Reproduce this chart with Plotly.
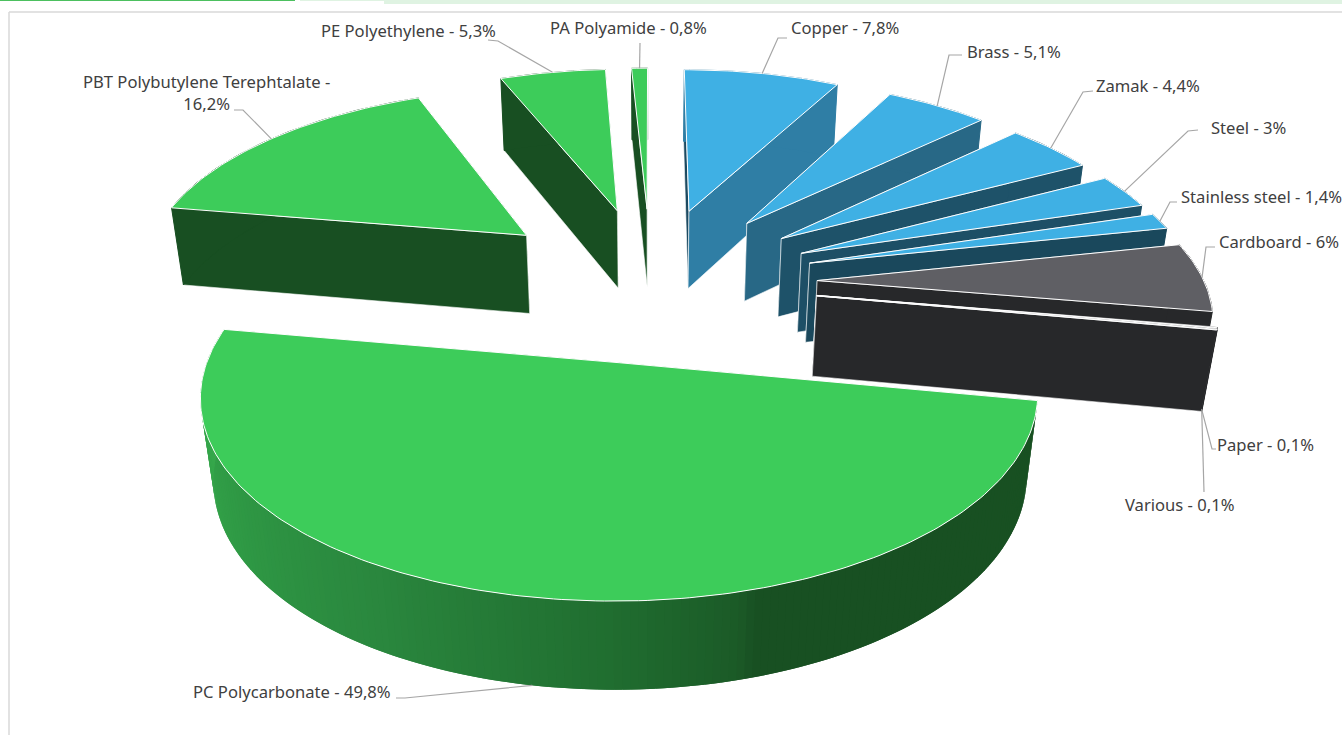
import math
import plotly.graph_objects as go

# ---- data ----
materials = ["Copper", "Brass", "Zamak", "Steel", "Stainless steel", "Cardboard", "Paper", "Various",
             "PC Polycarbonate", "PBT Polybutylene Terephtalate", "PE Polyethylene", "PA Polyamide"]
shares = [7.8, 5.1, 4.4, 3, 1.4, 6, 0.1, 0.1, 49.8, 16.2, 5.3, 0.8]

# ---- styles ----
top_colors = ["#3FB0E4"] * 5 + ["#5F5F64", "#27282A", "#27282A"] + ["#3DCC5A"] * 4
wall_colors = ["#2F7EA5", "#286886", "#1E5269", "#1D4F66", "#1A485C", "#27282A", "#27282A", "#27282A",
               "#185022", "#184F22", "#184F22", "#184F22"]
start_wall_colors = ["#1C4A61"] + wall_colors[1:]
pc_wall_stops = [(100, (24, 80, 34)), (163, (24, 80, 34)), (165, (27, 90, 39)), (181, (32, 110, 48)),
                 (210, (42, 135, 62)), (240, (47, 154, 69)), (280, (58, 176, 79))]

# ---- projection of the exploded, tilted pie ----
CX, CY, R, B, H, PX, PY, Q = 651, 282, 387, 179.5, 82, 0.15, 0.14, 0.027
EXPLODE = 0.43


def project(x, y, z=0.0):
    wx = 1 + PX * y + Q * z
    wy = 1 + PY * y + Q * z
    return CX + R * x / wx, CY + (-B * y + H * z) / wy


def pol(deg, rad=1.0):
    t = math.radians(deg)
    return rad * math.sin(t), rad * math.cos(t)


total = sum(shares)
slices = []
acc = 0.0
for i, v in enumerate(shares):
    a0 = acc / total * 360
    acc += v
    a1 = acc / total * 360
    mid = (a0 + a1) / 2
    ox, oy = pol(mid, EXPLODE)
    slices.append(dict(i=i, a0=a0, a1=a1, mid=mid, ox=ox, oy=oy))


def pt(s, deg, rad, z):
    x, y = pol(deg, rad)
    return project(s["ox"] + x, s["oy"] + y, z)


def poly(fig, pts, fill, line=None, width=1.0):
    xs = [p[0] for p in pts] + [pts[0][0]]
    ys = [p[1] for p in pts] + [pts[0][1]]
    fig.add_trace(go.Scatter(x=xs, y=ys, mode="lines", fill="toself", fillcolor=fill,
                             line=dict(color=line or fill, width=width),
                             hoverinfo="skip", showlegend=False))


def pc_color(deg):
    for (d0, c0), (d1, c1) in zip(pc_wall_stops, pc_wall_stops[1:]):
        if d0 <= deg <= d1:
            f = (deg - d0) / (d1 - d0)
            c = [round(c0[k] + (c1[k] - c0[k]) * f) for k in range(3)]
            return "rgb(%d,%d,%d)" % tuple(c)
    return "rgb(%d,%d,%d)" % pc_wall_stops[-1][1]


fig = go.Figure()

for s in sorted(slices, key=lambda q: -math.cos(math.radians(q["mid"]))):
    i = s["i"]
    n = max(2, int((s["a1"] - s["a0"]) / 1.0) + 1)
    degs = [s["a0"] + (s["a1"] - s["a0"]) * k / n for k in range(n + 1)]
    # radial walls, farther one first
    walls = [(s["a0"], start_wall_colors[i]), (s["a1"], wall_colors[i])]
    walls.sort(key=lambda w: -math.cos(math.radians(w[0])))
    for a, col in walls:
        poly(fig, [pt(s, a, 0, 0), pt(s, a, 1, 0), pt(s, a, 1, 1), pt(s, a, 0, 1)], col, "#FFFFFF", 0.6)
    # outer wall
    if materials[i].startswith("PC"):
        for k in range(len(degs) - 1):
            a = degs[k]
            b = degs[min(k + 2, len(degs) - 1)]
            c = pc_color((degs[k] + degs[k + 1]) / 2)
            poly(fig, [pt(s, a, 1, 0), pt(s, b, 1, 0), pt(s, b, 1, 1), pt(s, a, 1, 1)], c, c, 0)
    else:
        poly(fig, [pt(s, d, 1, 0) for d in degs] + [pt(s, d, 1, 1) for d in reversed(degs)], wall_colors[i])
    # top face
    poly(fig, [pt(s, s["a0"], 0, 0)] + [pt(s, d, 1, 0) for d in degs], top_colors[i], "#FFFFFF", 1.0)

# ---- label layout: (text x, text y, anchor, leader end, elbow, leader anchored on lower edge) ----
label_layout = {
    "Copper": (789, 27, "left", (787, 38), (778, 38), 0),
    "Brass": (965, 51, "left", (962, 55), (949, 55), 0),
    "Zamak": (1094, 85, "left", (1093, 91), (1083, 92), 0),
    "Steel": (1209, 127, "left", (1198, 130), (1188, 131), 0),
    "Stainless steel": (1179, 196, "left", (1177, 202), (1170, 202), 0),
    "Cardboard": (1217, 241, "left", (1215, 247), (1206, 247), 0),
    "Paper": (1215, 444, "left", (1216, 449), (1212, 449), 1),
    "Various": (1123, 504, "left", (1204, 492), (1204, 492), 1),
    "PC Polycarbonate": (191, 691, "left", (396, 698), (405, 698), 1),
    "PBT Polybutylene Terephtalate": (206, 92, "center", (234, 110), (243, 110), 0),
    "PE Polyethylene": (319, 30, "left", (488, 40), (498, 41), 0),
    "PA Polyamide": (548, 27, "left", (640, 43), (640, 43), 0),
}

GREY = "#A6A6A6"
annotations = []
for s in slices:
    name = materials[s["i"]]
    lx, ly, anchor, end, elbow, lower = label_layout[name]
    ax, ay = pt(s, s["mid"], 1, lower)
    fig.add_trace(go.Scatter(x=[end[0], elbow[0], ax], y=[end[1], elbow[1], ay], mode="lines",
                             line=dict(color=GREY, width=1.2), hoverinfo="skip", showlegend=False))
    val = str(shares[s["i"]]).replace(".", ",")
    txt = f"{name} - {val}%"
    if name.startswith("PBT"):
        txt = f"{name} -<br>{val}%"
    annotations.append(dict(x=lx, y=ly, xref="x", yref="y", text=txt, showarrow=False,
                            xanchor=anchor, yanchor="middle", align="center",
                            font=dict(family="Noto Sans", size=16.6, color="#404040")))

shapes = [
    dict(type="rect", x0=0, x1=295, y0=0, y1=1, xref="x", yref="y", fillcolor="#4CC05F", line_width=0, layer="below"),
    dict(type="rect", x0=300, x1=384, y0=0, y1=1, xref="x", yref="y", fillcolor="#DFF3E2", line_width=0, layer="below"),
    dict(type="rect", x0=384, x1=1342, y0=0, y1=4, xref="x", yref="y", fillcolor="#DFF3E2", line_width=0, layer="below"),
    dict(type="line", x0=9, x1=1342, y0=12, y1=12, xref="x", yref="y", line=dict(color="#D9D9D9", width=1.5), layer="below"),
    dict(type="line", x0=9, x1=9, y0=12, y1=735, xref="x", yref="y", line=dict(color="#D9D9D9", width=1.5), layer="below"),
]

fig.update_layout(
    width=1342, height=735, margin=dict(l=0, r=0, t=0, b=0, autoexpand=False),
    paper_bgcolor="#FFFFFF", plot_bgcolor="#FFFFFF", showlegend=False,
    xaxis=dict(range=[0, 1342], visible=False, fixedrange=True),
    yaxis=dict(range=[735, 0], visible=False, fixedrange=True),
    annotations=annotations, shapes=shapes, hovermode=False,
)

fig.write_html("out.html", config={"displayModeBar": False},
               post_script="document.body.style.margin='0';document.documentElement.style.overflow='hidden';")
